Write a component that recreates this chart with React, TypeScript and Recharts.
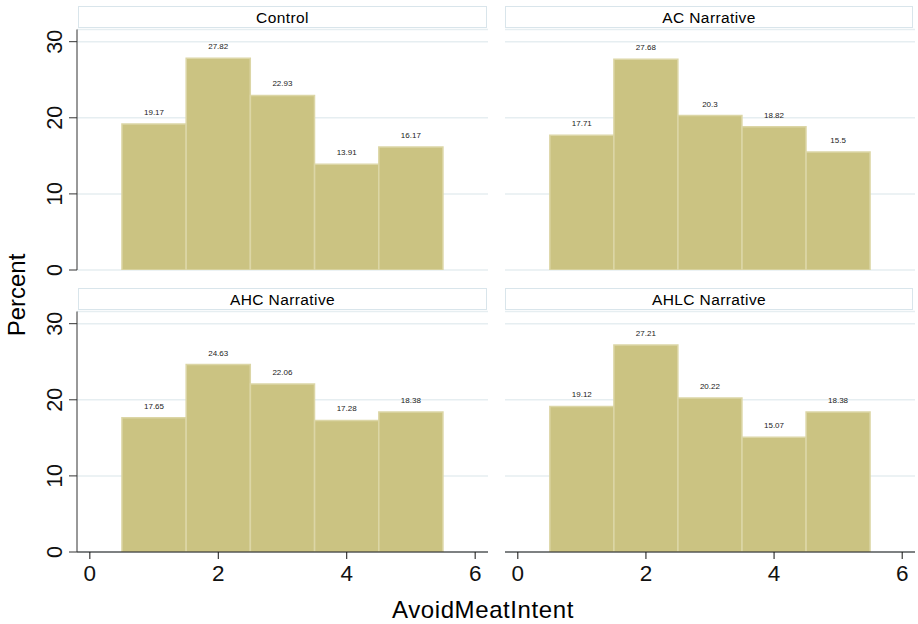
import React from 'react';
import { ComposedChart, Bar, XAxis, YAxis, CartesianGrid, LabelList } from 'recharts';

const bins = [1, 2, 3, 4, 5];
const controlPct = [19.17, 27.82, 22.93, 13.91, 16.17];
const acPct = [17.71, 27.68, 20.3, 18.82, 15.5];
const ahcPct = [17.65, 24.63, 22.06, 17.28, 18.38];
const ahlcPct = [19.12, 27.21, 20.22, 15.07, 18.38];
const panelTitles = ['Control', 'AC Narrative', 'AHC Narrative', 'AHLC Narrative'];
const xTicks = [0, 2, 4, 6];
const yTicks = [0, 10, 20, 30];
const xDomain = [-0.2, 6.2];
const yDomain = [0, 31.6];
const xTitle = 'AvoidMeatIntent';
const yTitle = 'Percent';

const FONT = '"Liberation Sans", Arial, Helvetica, sans-serif';
const FILL = '#cbc382';
const EDGE = '#dcd6a6';
const GRID = '#e6eef1';
const STRIP = '#d9e5eb';

const toRows = (vals: number[]) => bins.map((b, i) => ({ bin: b, pct: vals[i] }));

const YTick = (props: any) => {
  const { x, y, payload } = props;
  return (
    <text x={x} y={y} transform={`rotate(-90 ${x} ${y})`} textAnchor="middle" fontSize={21.5} fill="#111" fontFamily={FONT}>
      {payload.value}
    </text>
  );
};

type PanelProps = {
  vals: number[];
  left: number;
  top: number;
  width: number;
  height: number;
  margin: { top: number; right: number; bottom: number; left: number };
  showY: boolean;
  showX: boolean;
};

const Panel = ({ vals, left, top, width, height, margin, showY, showX }: PanelProps) => {
  const plotW = width - margin.left - margin.right - (showY ? 77 : 0);
  const barW = (plotW / (xDomain[1] - xDomain[0])) * 1 - 0.1;
  return (
    <div style={{ position: 'absolute', left, top }}>
      <ComposedChart width={width} height={height} data={toRows(vals)} margin={margin} barCategoryGap={0} barGap={0}>
        <CartesianGrid horizontal vertical={false} stroke={GRID} strokeWidth={1.5} />
        <XAxis
          dataKey="bin"
          type="number"
          domain={xDomain}
          ticks={xTicks}
          hide={!showX}
          height={35}
          tickSize={7}
          tickMargin={6}
          stroke="#111"
          tick={{ fontSize: 22.5, fill: '#111', fontFamily: FONT }}
          allowDataOverflow
        />
        <YAxis
          type="number"
          domain={yDomain}
          ticks={yTicks}
          hide={!showY}
          width={77}
          tickSize={8}
          tickMargin={7}
          stroke="#333"
          tick={(p: any) => <YTick {...p} />}
          allowDataOverflow
        />
        <Bar dataKey="pct" fill={FILL} stroke={EDGE} strokeWidth={1.5} barSize={barW} isAnimationActive={false}>
          <LabelList dataKey="pct" position="top" offset={9} fontSize={8} fill="#222" fontFamily={FONT} />
        </Bar>
      </ComposedChart>
    </div>
  );
};

const Strip = ({ left, top, width, text }: { left: number; top: number; width: number; text: string }) => (
  <div
    style={{
      position: 'absolute',
      left,
      top,
      width,
      height: 22,
      border: `1px solid ${STRIP}`,
      boxSizing: 'border-box',
      background: '#fff',
      fontFamily: FONT,
      fontSize: 15.5,
      letterSpacing: 0.4,
      lineHeight: '21px',
      textAlign: 'center',
      color: '#000',
    }}
  >
    {text}
  </div>
);

export default function App() {
  const topM = { top: 29.5, right: 7, bottom: 10, left: 0 };
  const topMR = { top: 29.5, right: 3, bottom: 10, left: 15 };
  const botM = { top: 29.5, right: 7, bottom: 5, left: 0 };
  const botMR = { top: 29.5, right: 3, bottom: 5, left: 15 };
  return (
    <div style={{ position: 'absolute', left: 0, top: 0, width: 918, height: 624, background: '#fff', overflow: 'hidden' }}>
      <Panel vals={controlPct} left={0} top={0} width={495} height={280} margin={topM} showY showX={false} />
      <Panel vals={acPct} left={490} top={0} width={428} height={280} margin={topMR} showY={false} showX={false} />
      <Panel vals={ahcPct} left={0} top={282} width={495} height={310} margin={botM} showY showX />
      <Panel vals={ahlcPct} left={490} top={282} width={428} height={310} margin={botMR} showY={false} showX />
      <Strip left={78} top={5.5} width={409} text={panelTitles[0]} />
      <Strip left={505} top={5.5} width={408} text={panelTitles[1]} />
      <Strip left={78} top={288} width={409} text={panelTitles[2]} />
      <Strip left={505} top={288} width={408} text={panelTitles[3]} />
      <svg width={918} height={624} style={{ position: 'absolute', left: 0, top: 0, pointerEvents: 'none' }}>
        <text x={25} y={295} transform="rotate(-90 25 295)" textAnchor="middle" fontSize={24} fill="#000" fontFamily={FONT}>
          {yTitle}
        </text>
        <text x={483} y={617.5} textAnchor="middle" fontSize={24} letterSpacing={0.6} fill="#000" fontFamily={FONT}>
          {xTitle}
        </text>
      </svg>
    </div>
  );
}
